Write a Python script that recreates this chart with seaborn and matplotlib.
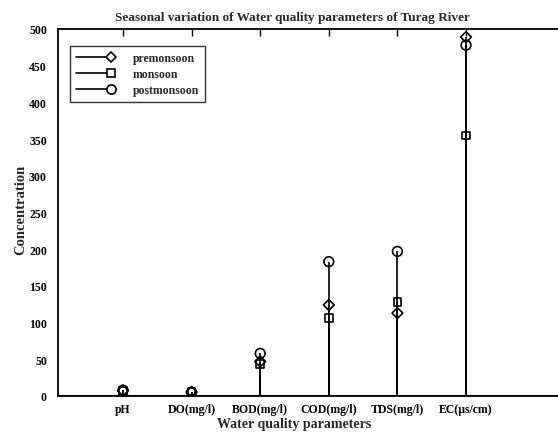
import matplotlib
matplotlib.use("Agg")
import matplotlib.pyplot as plt
from matplotlib.lines import Line2D
from matplotlib.legend_handler import HandlerBase
import numpy as np
import pandas as pd
import seaborn as sns

# ---- data ----
parameters = ["pH", "DO(mg/l)", "BOD(mg/l)", "COD(mg/l)", "TDS(mg/l)", "EC(\u00b5s/cm)"]
premonsoon = [7.4, 5.5, 47, 124, 113, 489]
monsoon = [7.0, 6.0, 44, 106, 128, 355]
postmonsoon = [8.0, 5.0, 58, 183, 197, 478]
seasons = ["premonsoon", "monsoon", "postmonsoon"]
y_ticks = [0, 50, 100, 150, 200, 250, 300, 350, 400, 450, 500]

sns.set_style("white")
plt.rcParams["font.family"] = ["Liberation Serif", "DejaVu Serif"]
plt.rcParams["font.weight"] = "bold"

pos = np.arange(1, len(parameters) + 1)
rows = []
for s, vals in zip(seasons, [premonsoon, monsoon, postmonsoon]):
    for p, v in zip(pos, vals):
        rows.append({"pos": p, "value": v, "season": s})
df = pd.DataFrame(rows)

fig = plt.figure(figsize=(5.58, 4.35), dpi=100)
left_px, right_px, top_px, bot_px = 58, 620, 30, 397
ax = fig.add_axes([left_px / 558, 1 - bot_px / 435, (right_px - left_px) / 558,
                   (bot_px - top_px) / 435])

# stems
for s, vals in zip(seasons, [premonsoon, monsoon, postmonsoon]):
    ax.vlines(pos, 0, vals, color="black", linewidth=1.2, zorder=2)

markers = {"premonsoon": "D", "monsoon": "s", "postmonsoon": "o"}
sizes = {"premonsoon": 5.5, "monsoon": 5.5, "postmonsoon": 7}
for s in seasons:
    sub = df[df["season"] == s]
    sns.scatterplot(data=sub, x="pos", y="value", marker=markers[s],
                    facecolor="none", edgecolor="black", linewidth=1.2,
                    s=sizes[s] ** 2, ax=ax, legend=False, zorder=3)

ax.axhline(0, color="black", linewidth=1.5, zorder=1)

ax.set_ylim(0, 500)
ax.set_xlim(1 - (123 - left_px) / 68.6, 1 + (right_px - 123) / 68.6)
ax.set_xticks(pos)
ax.set_xticklabels(parameters)
ax.set_yticks(y_ticks)
ax.tick_params(axis="both", direction="in", length=5, width=1, labelsize=8.5,
               top=True, right=False, colors="black")
ax.tick_params(axis="x", pad=5)
ax.tick_params(axis="y", pad=8)
for lab in ax.get_xticklabels() + ax.get_yticklabels():
    lab.set_fontweight("bold")
for name in ["left", "top", "bottom"]:
    ax.spines[name].set_linewidth(1.3)
    ax.spines[name].set_color("black")
ax.spines["right"].set_visible(False)

ax.set_xlabel("Water quality parameters", fontsize=10, fontweight="bold")
ax.xaxis.set_label_coords((294 - left_px) / (right_px - left_px),
                          (bot_px - 425) / (bot_px - top_px))
ax.xaxis.label.set_va("center")
ax.set_ylabel("Concentration", fontsize=10.5, fontweight="bold")
ax.yaxis.set_label_coords((21 - left_px) / (right_px - left_px),
                          (bot_px - 210) / (bot_px - top_px))
ax.yaxis.label.set_va("center")
fig.text(292 / 558, 1 - 18 / 435, "Seasonal variation of Water quality parameters of Turag River",
         ha="center", va="center", fontsize=9.5, fontweight="bold")


class StemHandler(HandlerBase):
    def create_artists(self, legend, orig_handle, xdescent, ydescent, width, height,
                       fontsize, trans):
        y = (height - ydescent) / 2.0
        x0, x1 = -xdescent, -xdescent + width
        line = Line2D([x0, x1], [y, y], color="black", linewidth=1.2)
        mark = Line2D([x1], [y], linestyle="none", marker=orig_handle.get_marker(),
                      markersize=orig_handle.get_markersize(), markerfacecolor="white",
                      markeredgecolor="black", markeredgewidth=1.2)
        line.set_transform(trans)
        mark.set_transform(trans)
        return [line, mark]


handles = []
for s in seasons:
    h = Line2D([0, 1], [0, 0], color="black", linewidth=1.2, marker=markers[s],
               markersize=sizes[s] * 0.95, markerfacecolor="none", markeredgecolor="black")
    handles.append(h)
leg = ax.legend(handles, seasons, loc="upper left",
                bbox_to_anchor=(12 / (right_px - left_px), 1 - 17 / (bot_px - top_px)),
                handler_map={Line2D: StemHandler()},
                frameon=True, fancybox=False, edgecolor="black",
                prop={"family": "Liberation Serif", "weight": "bold", "size": 8.5},
                handlelength=3.0, handletextpad=1.8, borderpad=0.5, labelspacing=0.35,
                borderaxespad=0)
leg.get_frame().set_linewidth(1.0)

fig.savefig("out.png", dpi=100)
